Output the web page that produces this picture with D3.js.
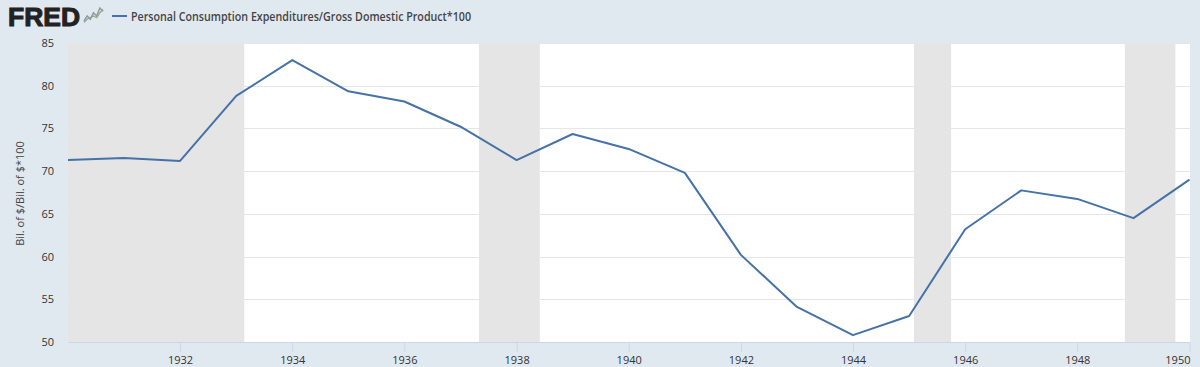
<!DOCTYPE html>
<html><head><meta charset="utf-8">
<script src="https://cdn.jsdelivr.net/npm/d3@7"></script>
<style>
html,body{margin:0;padding:0;background:#e1e9f0;overflow:hidden}
svg{display:block}
text{font-family:"Open Sans",sans-serif;fill:#333}
</style></head><body><div id="c"></div>
<script>
const years=[1930,1931,1932,1933,1934,1935,1936,1937,1938,1939,1940,1941,1942,1943,1944,1945,1946,1947,1948,1949,1950];
const values=[71.3,71.55,71.2,78.8,83.0,79.35,78.15,75.2,71.3,74.35,72.6,69.8,60.2,54.1,50.8,53.05,63.2,67.75,66.75,64.5,69.0];
const recessions=[["1930-01-01","1933-02-22"],["1937-05-01","1938-06-01"],["1945-02-01","1945-10-01"],["1948-11-06","1949-10-01"]];
const yTicks=[50,55,60,65,70,75,80,85];
const xTickYears=[1932,1934,1936,1938,1940,1942,1944,1946,1948,1950];
const seriesName="Personal Consumption Expenditures/Gross Domestic Product*100";
const yTitle="Bil. of $/Bil. of $*100";
const logoLine=[2,5,3,7,5,10,8];
const logoLine2=[1,3,4,5,4,7,9];

const W=1200,H=367,L=68,R=1190,T=43,B=342;
const date=s=>new Date(s+"T00:00:00Z");
const yr=y=>new Date(Date.UTC(y,0,1));
const x=d3.scaleUtc().domain([yr(1930),yr(1950)]).range([L,R-0.5]);
const y=d3.scaleLinear().domain([50,85]).range([B,T]);
const svg=d3.select("#c").append("svg").attr("width",W).attr("height",H);

svg.append("rect").attr("x",L).attr("y",T).attr("width",R-L).attr("height",B-T).attr("fill","#fff");
svg.selectAll(".rec").data(recessions).join("rect")
  .attr("x",d=>x(date(d[0]))).attr("y",T)
  .attr("width",d=>x(date(d[1]))-x(date(d[0]))).attr("height",B-T).attr("fill","#e5e5e5");
svg.selectAll(".grid").data(yTicks.filter(d=>d>50)).join("line")
  .attr("x1",L).attr("x2",R).attr("y1",d=>Math.round(y(d))+0.5).attr("y2",d=>Math.round(y(d))+0.5)
  .attr("stroke","#e6e6e6").attr("stroke-width",1);

const gy=svg.append("g").attr("transform",`translate(${L},0)`)
  .call(d3.axisLeft(y).tickValues(yTicks).tickSize(0).tickPadding(14));
gy.select(".domain").remove();
gy.selectAll("text").attr("font-size",11).attr("font-family","'Open Sans',sans-serif").attr("fill","#444").attr("fill-opacity",1);

const gx=svg.append("g").attr("transform",`translate(0,${B})`)
  .call(d3.axisBottom(x).tickValues(xTickYears.map(yr)).tickFormat(d3.utcFormat("%Y")).tickSize(10).tickPadding(4).tickSizeOuter(0));
gx.select(".domain").attr("stroke","#ccd6eb");
gx.selectAll("line").attr("stroke","#ccd6eb");
gx.selectAll("text").attr("font-size",11).attr("font-family","'Open Sans',sans-serif").attr("fill","#444");
gx.selectAll(".tick").filter(d=>d.getUTCFullYear()===1950).select("text").attr("text-anchor","end").attr("dx",0.5);

svg.append("path").datum(years.map((d,i)=>[d,values[i]]))
  .attr("fill","none").attr("stroke","#4572a7").attr("stroke-width",2).attr("stroke-linejoin","round")
  .attr("d",d3.line().x(d=>x(yr(d[0]))).y(d=>y(d[1])));

svg.append("text").attr("transform",`translate(24,${(T+B)/2+1}) rotate(-90)`)
  .attr("text-anchor","middle").attr("font-size",11).style("fill","#444").text(yTitle);

// header
svg.append("text").attr("x",8).attr("y",25.5).attr("font-size",25).attr("font-weight",700)
  .attr("textLength",72).attr("lengthAdjust","spacingAndGlyphs")
  .style("font-family","'Liberation Sans',sans-serif").style("fill","#222").style("stroke","#222").style("stroke-width",1).text("FRED");
const lx=d3.scaleLinear().domain([0,6]).range([84,103]), ly=d3.scaleLinear().domain([0,10]).range([24,8]);
svg.append("path").datum(logoLine2).attr("fill","none").attr("stroke","#9db18c").attr("stroke-width",1.5)
  .attr("d",d3.line().x((d,i)=>lx(i)).y(d=>ly(d)));
svg.append("path").datum(logoLine).attr("fill","none").attr("stroke","#8e9aa8").attr("stroke-width",1.5)
  .attr("d",d3.line().x((d,i)=>lx(i)).y(d=>ly(d)));
svg.append("line").attr("x1",112).attr("x2",127).attr("y1",16).attr("y2",16).attr("stroke","#4572a7").attr("stroke-width",2);
svg.append("text").attr("x",131).attr("y",20.5).attr("font-size",12).attr("font-weight",600)
  .attr("textLength",340).attr("lengthAdjust","spacingAndGlyphs").style("fill","#444").text(seriesName);
</script></body></html>
